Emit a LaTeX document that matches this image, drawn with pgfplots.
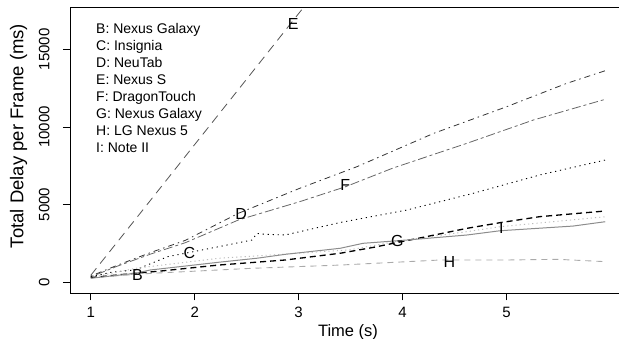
\documentclass[border=0pt]{standalone}
\usepackage{pgfplots}
\pgfplotsset{compat=1.18}
\usepackage{fontspec}
\setmainfont{Liberation Sans}
\definecolor{cE}{HTML}{555555}
\definecolor{cD}{HTML}{333333}
\definecolor{cF}{HTML}{666666}
\definecolor{cB}{HTML}{8C8C8C}
\definecolor{cI}{HTML}{BBBBBB}
\definecolor{cH}{HTML}{AAAAAA}
\begin{document}
\begin{tikzpicture}
\begin{axis}[
  name=ax,
  scale only axis,
  width=556pt, height=286pt,
  xmin=0.8, xmax=6.15,
  ymin=-708, ymax=17704,
  xtick={1,2,3,4,5},
  ytick={0,5000,10000,15000},
  tick pos=left,
  tick align=outside,
  major tick length=7pt,
  scaled ticks=false,
  /pgf/number format/assume math mode=true,
  /pgf/number format/set thousands separator={},
  tick label style={font=\fontsize{15}{18}\selectfont},
  yticklabel style={rotate=90, anchor=south, yshift=10pt},
  xticklabel style={anchor=north, yshift=-3pt},
  axis line style={line width=0.8pt},
  tick style={line width=0.8pt, black},
  xlabel={Time (s)},
  ylabel={Total Delay per Frame (ms)},
  xlabel style={font=\fontsize{16.5}{19}\selectfont, at={(rel axis cs:0.5,0)}, anchor=center, yshift=-39pt},
  ylabel style={font=\fontsize{18.5}{21}\selectfont, at={(axis description cs:-0.0926,0.55)}, anchor=center},
]
% E: Nexus S
\addplot[cE, line width=0.8pt, dash pattern=on 9pt off 6pt] coordinates {
(1,450) (1.5,4650) (2,8870) (2.5,13080) (3,17300) (3.2,18980)};
% D: NeuTab
\addplot[cD, line width=0.8pt, dash pattern=on 1.5pt off 4pt on 6pt off 4pt] coordinates {
(1,400) (1.26,1110) (1.59,1950) (1.91,2700) (2.42,4440) (3.01,6050) (3.56,7440) (4.30,9590) (5.0,11300) (5.58,12810) (5.95,13620)};
% F: DragonTouch
\addplot[cF, line width=0.8pt, dash pattern=on 3pt off 3pt on 9pt off 3pt] coordinates {
(1,350) (1.26,1050) (1.59,1850) (1.91,2550) (2.42,4010) (3.01,5190) (3.45,6150) (3.91,7360) (4.62,8950) (5.26,10450) (5.95,11780)};
% C: Insignia
\addplot[black, line width=0.9pt, dash pattern=on 1.2pt off 3.8pt] coordinates {
(1,350) (1.2,650) (1.43,800) (1.74,1650) (2.23,2290) (2.55,2720) (2.6,3150) (2.65,3100) (2.87,3045) (3.40,3850) (4.04,4650) (4.68,5730) (5.32,6910) (5.95,7870)};
% H: LG Nexus 5
\addplot[cH, line width=0.9pt, dash pattern=on 6pt off 5pt] coordinates {
(1,300) (1.59,580) (2.55,900) (3.40,1110) (4.36,1435) (5.0,1435) (5.49,1480) (5.95,1330)};
% I: Note II
\addplot[cI, line width=0.9pt, dash pattern=on 1.2pt off 3pt] coordinates {
(1,300) (1.43,900) (2.23,1545) (3.48,2080) (4.0,2700) (4.62,3260) (4.94,3580) (5.95,4220)};
% G: Nexus Galaxy
\addplot[black, line width=1.3pt, dash pattern=on 6pt off 4pt] coordinates {
(1,300) (1.3,500) (1.68,730) (2.23,1110) (2.87,1435) (3.40,1870) (3.72,2250) (4.20,2900) (4.62,3475) (4.94,3840) (5.32,4225) (5.95,4590)};
% B: Nexus Galaxy
\addplot[cB, line width=1pt] coordinates {
(1,260) (1.43,580) (1.57,790) (2.23,1290) (2.6,1550) (2.87,1800) (3.40,2190) (3.62,2510) (4.04,2720) (4.62,3045) (4.94,3320) (5.64,3620) (5.95,3900)};
% curve labels
\begin{scope}[every node/.style={font=\fontsize{16}{19}\selectfont, inner sep=0pt}]
\node at (axis cs:1.45,470) {B};
\node at (axis cs:1.95,1880) {C};
\node at (axis cs:2.447,4380) {D};
\node at (axis cs:2.948,16660) {E};
\node at (axis cs:3.448,6260) {F};
\node at (axis cs:3.95,2680) {G};
\node at (axis cs:4.45,1290) {H};
\node at (axis cs:4.95,3520) {I};
\end{scope}
\end{axis}
\node[anchor=north west, inner sep=0pt, align=left, font=\fontsize{14}{17}\selectfont] at ([shift={(26pt,-16pt)}]ax.north west) {B: Nexus Galaxy\\C: Insignia\\D: NeuTab\\E: Nexus S\\F: DragonTouch\\G: Nexus Galaxy\\H: LG Nexus 5\\I: Note II};
\pgfresetboundingbox
\path[use as bounding box] ([shift={(-70pt,-45.7pt)}]ax.south west) rectangle ([shift={(549pt,7.3pt)}]ax.north west);
\end{tikzpicture}
\end{document}
